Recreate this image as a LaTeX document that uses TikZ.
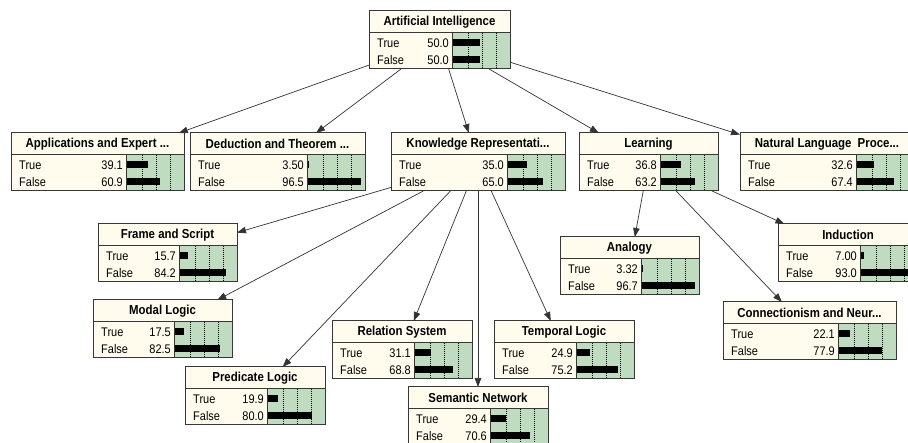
\documentclass[tikz,border=0pt]{standalone}
\usepackage{fontspec}
\setmainfont{Liberation Sans}
\newfontfamily\bnfont[FakeStretch=0.88]{Liberation Sans}
\usetikzlibrary{arrows.meta}
\definecolor{cream}{RGB}{255,252,238}
\definecolor{bargreen}{RGB}{192,220,192}
\definecolor{bord}{RGB}{55,55,55}
\tikzset{
  bnbox/.style={draw=bord, fill=cream, line width=1pt, inner sep=0pt, outer sep=0pt, anchor=north west},
  bntitle/.style={font=\bnfont\fontsize{13}{14}\selectfont\bfseries, inner sep=0pt, anchor=center},
  bnlabel/.style={font=\bnfont\fontsize{12.5}{14}\selectfont, inner sep=0pt, anchor=west},
  bnvalue/.style={font=\bnfont\fontsize{12.5}{14}\selectfont, inner sep=0pt, anchor=east},
  bnline/.style={draw=bord, line width=1pt},
  bndot/.style={draw=black, line width=0.6pt, dash pattern=on 1pt off 1pt},
  edge/.style={draw=black!80, line width=0.7pt, -{Triangle[length=9pt,width=6.5pt]}},
}
% #1 name, #2 left, #3 top, #4 width, #5 title, #6 true, #7 false
\newcommand{\bnnode}[7]{%
  \node[bnbox, minimum width=#4pt, minimum height=58pt] (#1) at (#2,#3) {};
  \pgfmathsetmacro{\bnR}{#2+#4}%
  \pgfmathsetmacro{\bnB}{#3+58}%
  \pgfmathsetmacro{\bnS}{\bnR-58}%
  \pgfmathsetmacro{\bnD}{#3+22}%
  \fill[bargreen] (\bnS,\bnD) rectangle (\bnR,\bnB);
  \foreach \k in {16,30,44} {\draw[bndot] ({\bnS+\k},\bnD) -- ({\bnS+\k},\bnB);}
  \fill[black] (\bnS,{\bnD+6.5}) rectangle ({\bnS+#6*0.56},{\bnD+13.5});
  \fill[black] (\bnS,{\bnD+23.5}) rectangle ({\bnS+#7*0.56},{\bnD+30.5});
  \draw[bnline] (#2,\bnD) -- (\bnR,\bnD);
  \draw[bnline] (\bnS,\bnD) -- (\bnS,\bnB);
  \draw[bnline] (#1.north west) rectangle (#1.south east);
  \node[bntitle] (#1t) at ({#2+#4/2},{#3+11}) {#5};
  \node[bnlabel] (#1a) at ({#2+8},{\bnD+10}) {True};
  \node[bnlabel] (#1b) at ({#2+8},{\bnD+27}) {False};
  \node[bnvalue] (#1c) at ({\bnS-3},{\bnD+10}) {#6};
  \node[bnvalue] (#1d) at ({\bnS-3},{\bnD+27}) {#7};
}
\begin{document}
\begin{tikzpicture}[x=1pt,y=-1pt]
\useasboundingbox (0,0) rectangle (908,443);
\clip (0,0) rectangle (908,443);
\fill[white] (0,0) rectangle (908,443);

\bnnode{ai}{369}{11}{141}{Artificial Intelligence}{50.0}{50.0}
\bnnode{app}{11}{133}{173}{Applications and Expert ...}{39.1}{60.9}
\bnnode{ded}{190}{133}{175}{Deduction and Theorem ...}{3.50}{96.5}
\bnnode{know}{391}{133}{174}{Knowledge Representati...}{35.0}{65.0}
\bnnode{learn}{579}{133}{139}{Learning}{36.8}{63.2}
\bnnode{nl}{740}{133}{174}{Natural Language\hspace{3pt} Proce...}{32.6}{67.4}
\bnnode{frame}{98}{224}{139}{Frame and Script}{15.7}{84.2}
\bnnode{modal}{93}{300}{139}{Modal Logic}{17.5}{82.5}
\bnnode{pred}{185}{367}{140}{Predicate Logic}{19.9}{80.0}
\bnnode{rel}{332}{321}{140}{Relation System}{31.1}{68.8}
\bnnode{temp}{494}{321}{140}{Temporal Logic}{24.9}{75.2}
\bnnode{sem}{408}{387}{140}{Semantic Network}{29.4}{70.6}
\bnnode{analogy}{560}{237}{139}{Analogy}{3.32}{96.7}
\bnnode{induct}{778}{224}{140}{Induction}{7.00}{93.0}
\bnnode{conn}{723}{302}{173}{Connectionism and Neur...}{22.1}{77.9}

\draw[edge] (ai) -- (app);
\draw[edge] (ai) -- (ded);
\draw[edge] (ai) -- (know);
\draw[edge] (ai) -- (learn);
\draw[edge] (ai) -- (nl);
\draw[edge] (know) -- (frame);
\draw[edge] (know) -- (modal);
\draw[edge] (know) -- (pred);
\draw[edge] (know) -- (rel);
\draw[edge] (know) -- (sem);
\draw[edge] (know) -- (temp);
\draw[edge] (learn) -- (analogy);
\draw[edge] (learn) -- (induct);
\draw[edge] (learn) -- (conn);
\end{tikzpicture}
\end{document}
